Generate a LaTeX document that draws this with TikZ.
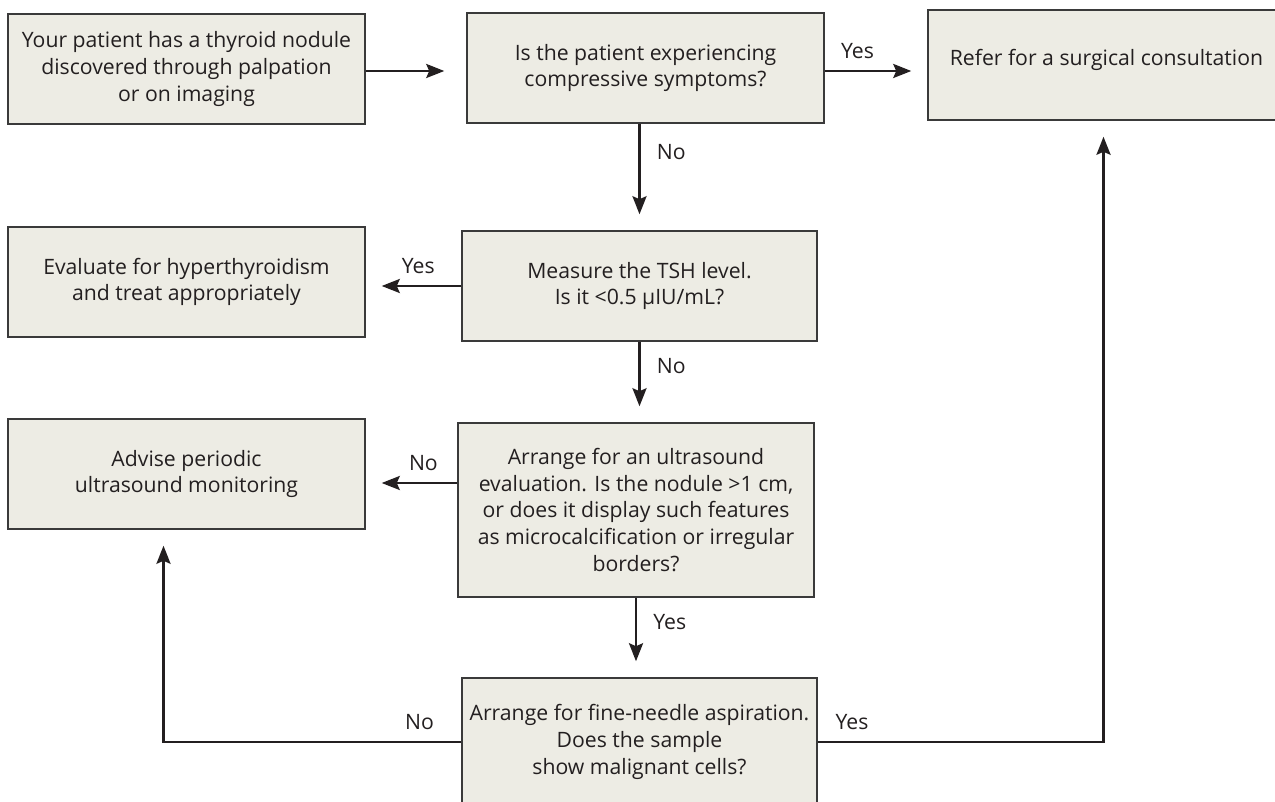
\documentclass[tikz,border=0pt]{standalone}
\usepackage{fontspec}
\setmainfont{Open Sans}
\usepackage{tikz}
\usetikzlibrary{arrows.meta, positioning, calc}

\definecolor{boxfill}{HTML}{EDECE4}
\definecolor{boxline}{HTML}{3A3A3A}
\definecolor{ink}{HTML}{231F20}

\tikzset{
	stepbox/.style={draw=boxline, fill=boxfill, line width=0.75pt, align=center, text=ink,
		font=\fontsize{10.6}{13.4}\selectfont, inner sep=0pt},
	arr/.style={draw=ink, line width=1.35pt, -{Stealth[length=9pt,width=7pt,inset=1.5pt]}, shorten >=8pt},
	lbl/.style={text=ink, font=\fontsize{10.6}{13.4}\selectfont, inner sep=2pt},
	lblup/.style={lbl, above, yshift=3.5pt},
	lblright/.style={lbl, right, xshift=6pt}
}

\begin{document}
\begin{tikzpicture}[x=0.5pt,y=-0.5pt]
	\useasboundingbox (0,0) rectangle (1275,802);
	\node[stepbox, minimum width=178.5pt, minimum height=55pt] (patient) at (186.5,69)
		{Your patient has a thyroid nodule\\discovered through palpation\\or on imaging};
	\node[stepbox, minimum width=178.5pt, minimum height=55pt] (compress) at (645.5,68)
		{Is the patient experiencing\\compressive symptoms?};
	\node[stepbox, minimum width=178.5pt, minimum height=55pt, text depth=8pt] (refer) at (1106.5,65)
		{Refer for a surgical consultation};
	\node[stepbox, minimum width=178.5pt, minimum height=55pt] (hyper) at (186.5,282)
		{Evaluate for hyperthyroidism\\and treat appropriately};
	\node[stepbox, minimum width=177.5pt, minimum height=55pt] (tsh) at (639.5,286)
		{Measure the TSH level.\\Is it <0.5 µIU/mL?};
	\node[stepbox, minimum width=178.5pt, minimum height=55pt] (advise) at (186.5,474)
		{Advise periodic\\ultrasound monitoring};
	\node[stepbox, minimum width=178pt, minimum height=87pt] (ultra) at (636,510)
		{Arrange for an ultrasound\\evaluation. Is the nodule >1 cm,\\or does it display such features\\as microcalcification or irregular\\borders?};
	\node[stepbox, minimum width=177.5pt, minimum height=64pt] (fna) at (639.5,742)
		{Arrange for fine-needle aspiration.\\Does the sample\\show malignant cells?};

	\draw[arr, shorten >=11pt] ([yshift=-1pt]patient.east) -- ([yshift=-1pt]patient.east -| compress.west);
	\draw[arr] ([yshift=-1.5pt]compress.east) -- node[lblup, pos=0.32] {Yes} ([yshift=-1.5pt]compress.east -| refer.west);
	\draw[arr] (compress.south -| tsh.north) -- node[lblright, pos=0.27] {No} (tsh.north);
	\draw[arr] (tsh.west) -- node[lblup, pos=0.45] {Yes} (tsh.west -| hyper.east);
	\draw[arr] (tsh.south) -- node[lblright, pos=0.3] {No} (tsh.south |- ultra.north);
	\draw[arr] ([yshift=13.5pt]ultra.west) -- node[lblup, pos=0.37] {No} ([yshift=13.5pt]ultra.west -| advise.east);
	\draw[arr] (ultra.south) -- node[lblright, pos=0.3] {Yes} (ultra.south |- fna.north);
	\draw[arr] (fna.west) -| node[lblup, pos=0.07] {No} ([xshift=-11.5pt]advise.south);
	\draw[arr] (fna.east) -| node[lblup, pos=0.06] {Yes} ([xshift=-1.5pt]refer.south);
\end{tikzpicture}
\end{document}
